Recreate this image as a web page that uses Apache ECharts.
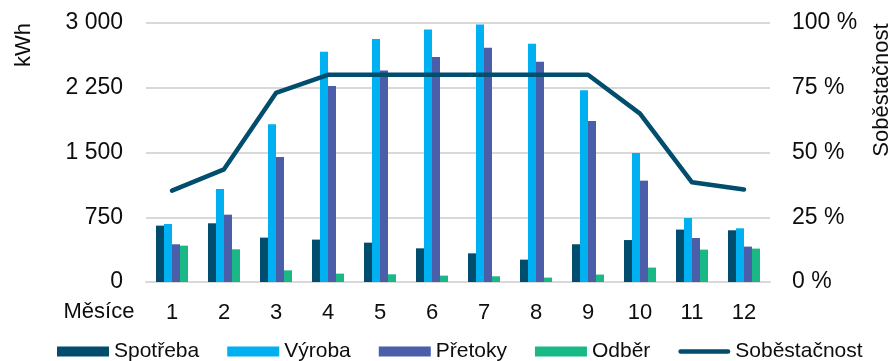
<!DOCTYPE html>
<html><head><meta charset="utf-8">
<script src="https://cdn.jsdelivr.net/npm/echarts@6/dist/echarts.min.js"></script>
<style>html,body{margin:0;padding:0;background:#fff}#c{width:896px;height:361px}</style>
</head><body><div id="c"></div>
<script>
const months = ['1','2','3','4','5','6','7','8','9','10','11','12'];
const spotreba = [653, 680, 514, 491, 456, 390, 332, 259, 437, 486, 607, 599];
const vyroba = [672, 1077, 1826, 2668, 2814, 2926, 2984, 2760, 2220, 1494, 741, 622];
const pretoky = [437, 780, 1448, 2270, 2451, 2605, 2714, 2552, 1864, 1174, 510, 410];
const odber = [421, 379, 135, 97, 89, 74, 66, 51, 86, 167, 375, 387];
const sobestacnost = [35.3, 43.5, 73, 80, 80, 80, 80, 80, 80, 65, 38.5, 35.7];
const leftTicks = [0, 750, 1500, 2250, 3000];
const rightTicks = [0, 25, 50, 75, 100];

const FONT = 'Liberation Sans, Arial, sans-serif';
const TXT = '#0d0d0d';
const chart = echarts.init(document.getElementById('c'), null, {renderer: 'canvas'});
const barCommon = {type: 'bar', barWidth: 8, barGap: '0%', yAxisIndex: 0};
const lineIcon = 'path://M2.5,0 L53.5,0 A2.5,2.5 0 0 1 53.5,5 L2.5,5 A2.5,2.5 0 0 1 2.5,0 Z';
chart.setOption({
  animation: false,
  textStyle: {fontFamily: FONT},
  grid: {left: 146, right: 126, top: 23, bottom: 79, containLabel: false},
  legend: {
    left: 57, top: 341, padding: 0, itemWidth: 52, itemHeight: 10, itemGap: 28,
    textStyle: {fontFamily: FONT, fontSize: 21, color: TXT, lineHeight: 20, padding: [-3, 0, 0, 0]},
    data: [
      {name: 'Spotřeba', icon: 'rect'},
      {name: 'Výroba', icon: 'rect'},
      {name: 'Přetoky', icon: 'rect'},
      {name: 'Odběr', icon: 'rect'},
      {name: 'Soběstačnost', icon: lineIcon}
    ]
  },
  xAxis: {
    type: 'category', data: months,
    axisLine: {lineStyle: {color: '#d9d9d9', width: 2}},
    axisTick: {show: false},
    axisLabel: {fontFamily: FONT, fontSize: 22, color: TXT, margin: 20}
  },
  yAxis: [
    {
      type: 'value', min: leftTicks[0], max: leftTicks[leftTicks.length - 1], interval: 750,
      axisLine: {show: false}, axisTick: {show: false},
      splitLine: {lineStyle: {color: '#d9d9d9', width: 2}},
      axisLabel: {fontFamily: FONT, fontSize: 23, color: TXT, margin: 23,
        formatter: v => String(v).replace(/\B(?=(\d{3})+(?!\d))/g, ' ')}
    },
    {
      type: 'value', min: rightTicks[0], max: rightTicks[rightTicks.length - 1], interval: 25,
      axisLine: {show: false}, axisTick: {show: false}, splitLine: {show: false},
      axisLabel: {fontFamily: FONT, fontSize: 23, color: TXT, margin: 22, formatter: '{value} %'}
    }
  ],
  series: [
    Object.assign({name: 'Spotřeba', data: spotreba, itemStyle: {color: '#004d6e'}}, barCommon),
    Object.assign({name: 'Výroba', data: vyroba, itemStyle: {color: '#00b0f0'}}, barCommon),
    Object.assign({name: 'Přetoky', data: pretoky, itemStyle: {color: '#4a5eaa'}}, barCommon),
    Object.assign({name: 'Odběr', data: odber, itemStyle: {color: '#1bb887'}}, barCommon),
    {name: 'Soběstačnost', type: 'line', yAxisIndex: 1, data: sobestacnost,
      symbol: 'none', showSymbol: false, z: 5,
      itemStyle: {color: '#004d6e'},
      lineStyle: {color: '#004d6e', width: 4.5, join: 'round', cap: 'round'}}
  ],
  graphic: [
    {type: 'text', x: 24, y: 45, rotation: Math.PI / 2,
      style: {text: 'kWh', font: '22px ' + FONT, fill: TXT, textAlign: 'center', verticalAlign: 'middle', textVerticalAlign: 'middle'}},
    {type: 'text', x: 882, y: 90, rotation: Math.PI / 2,
      style: {text: 'Soběstačnost', font: '22px ' + FONT, fill: TXT, textAlign: 'center', verticalAlign: 'middle', textVerticalAlign: 'middle'}},
    {type: 'text', x: 99, y: 312,
      style: {text: 'Měsíce', font: '22px ' + FONT, fill: TXT, textAlign: 'center', verticalAlign: 'middle', textVerticalAlign: 'middle'}}
  ]
});
</script></body></html>
